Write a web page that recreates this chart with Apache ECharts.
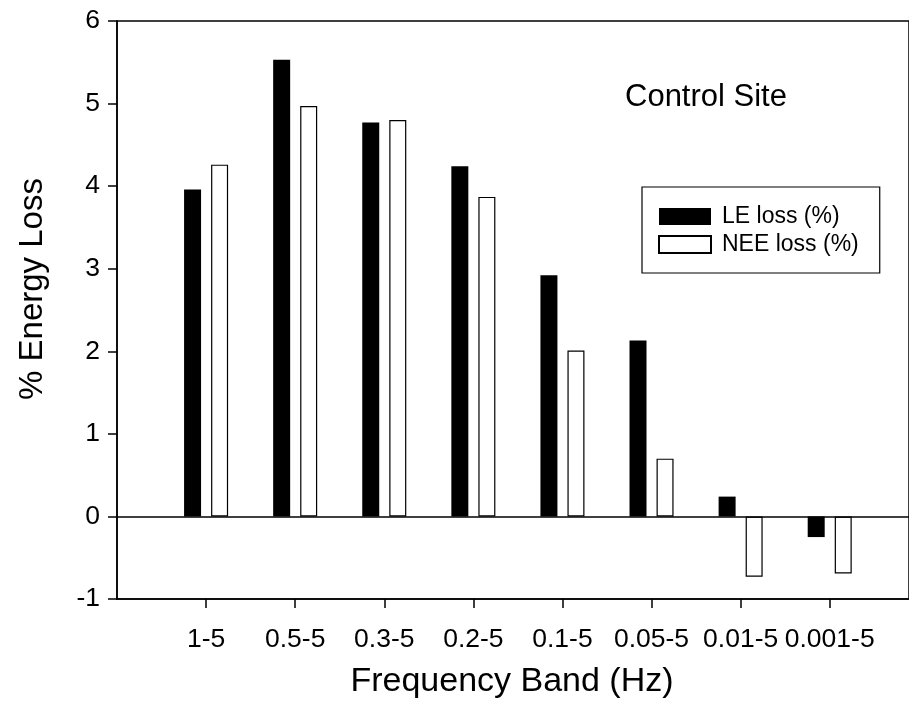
<!DOCTYPE html>
<html>
<head>
<meta charset="utf-8">
<script src="https://cdn.jsdelivr.net/npm/echarts@6/dist/echarts.min.js"></script>
<style>
  html, body { margin: 0; padding: 0; background: #fff; }
  #chart { width: 909px; height: 710px; }
</style>
</head>
<body>
<div id="chart"></div>
<script>
// Frequency bands (category order along the x axis)
const bands = ['1-5', '0.5-5', '0.3-5', '0.2-5', '0.1-5', '0.05-5', '0.01-5', '0.001-5'];
// Energy loss (%) per band
const leLoss  = [3.96, 5.53, 4.77, 4.24, 2.92, 2.13, 0.24, -0.25];
const neeLoss = [4.26, 4.97, 4.80, 3.87, 2.01, 0.70, -0.73, -0.69];
// Y axis tick range
const yMin = -1, yMax = 6, yStep = 1;

const FONT = '"Liberation Sans", Arial, Helvetica, sans-serif';
const positions = bands.map((_, i) => i + 1);

const chart = echarts.init(document.getElementById('chart'), null, { renderer: 'canvas' });

chart.setOption({
  backgroundColor: '#fff',
  animation: false,
  textStyle: { fontFamily: FONT, color: '#000' },
  grid: {
    left: 117, right: -2, top: 21, bottom: 111,
    show: true, borderColor: '#000', borderWidth: 1.5, backgroundColor: 'transparent'
  },
  legend: {
    orient: 'vertical',
    left: 642, top: 187,
    padding: [18, 21, 17, 16],
    itemWidth: 52, itemHeight: 17, itemGap: 5,
    borderColor: '#000', borderWidth: 1.2,
    icon: 'rect',
    textStyle: { fontFamily: FONT, fontSize: 23, color: '#000', padding: [0, 0, 0, 6] },
    data: ['LE loss (%)', 'NEE loss (%)']
  },
  xAxis: {
    type: 'value',
    min: 0, max: 8.89,
    splitLine: { show: false },
    axisLine: { onZero: false, lineStyle: { color: '#000', width: 1.5 } },
    axisTick: { show: true, customValues: positions, length: 9, lineStyle: { color: '#000', width: 1.5 } },
    axisLabel: {
      customValues: positions,
      fontFamily: FONT, fontSize: 26.5, color: '#000', margin: 27,
      formatter: v => bands[Math.round(v) - 1] || ''
    }
  },
  yAxis: {
    type: 'value',
    min: yMin, max: yMax, interval: yStep,
    splitLine: { show: false },
    axisLine: { onZero: false, lineStyle: { color: '#000', width: 1.5 } },
    axisTick: { show: true, inside: false, length: 9, lineStyle: { color: '#000', width: 1.5 } },
    axisLabel: { fontFamily: FONT, fontSize: 26.5, color: '#000', margin: 17 }
  },
  series: [
    {
      name: 'LE loss (%)',
      type: 'bar',
      data: positions.map((p, i) => [p, leLoss[i]]),
      barWidth: 17,
      barGap: '59%',
      itemStyle: { color: '#000', borderColor: '#000', borderWidth: 0 },
      markLine: {
        silent: true,
        symbol: 'none',
        label: { show: false },
        lineStyle: { color: '#000', width: 1.5, type: 'solid' },
        data: [{ yAxis: 0 }]
      }
    },
    {
      name: 'NEE loss (%)',
      type: 'bar',
      data: positions.map((p, i) => [p, neeLoss[i]]),
      barWidth: 17,
      barGap: '59%',
      itemStyle: { color: '#fff', borderColor: '#000', borderWidth: 1.2 }
    }
  ],
  graphic: [
    {
      type: 'text',
      x: 33, y: 289,
      rotation: Math.PI / 2,
      style: {
        text: '% Energy Loss',
        font: '33px ' + FONT,
        fill: '#000',
        textAlign: 'center',
        textVerticalAlign: 'middle'
      }
    },
    {
      type: 'text',
      x: 512, y: 682,
      style: {
        text: 'Frequency Band (Hz)',
        font: '34px ' + FONT,
        fill: '#000',
        textAlign: 'center',
        textVerticalAlign: 'middle'
      }
    },
    {
      type: 'text',
      x: 625, y: 97.5,
      style: {
        text: 'Control Site',
        font: '31px ' + FONT,
        fill: '#000',
        textAlign: 'left',
        textVerticalAlign: 'middle'
      }
    }
  ]
});
</script>
</body>
</html>
